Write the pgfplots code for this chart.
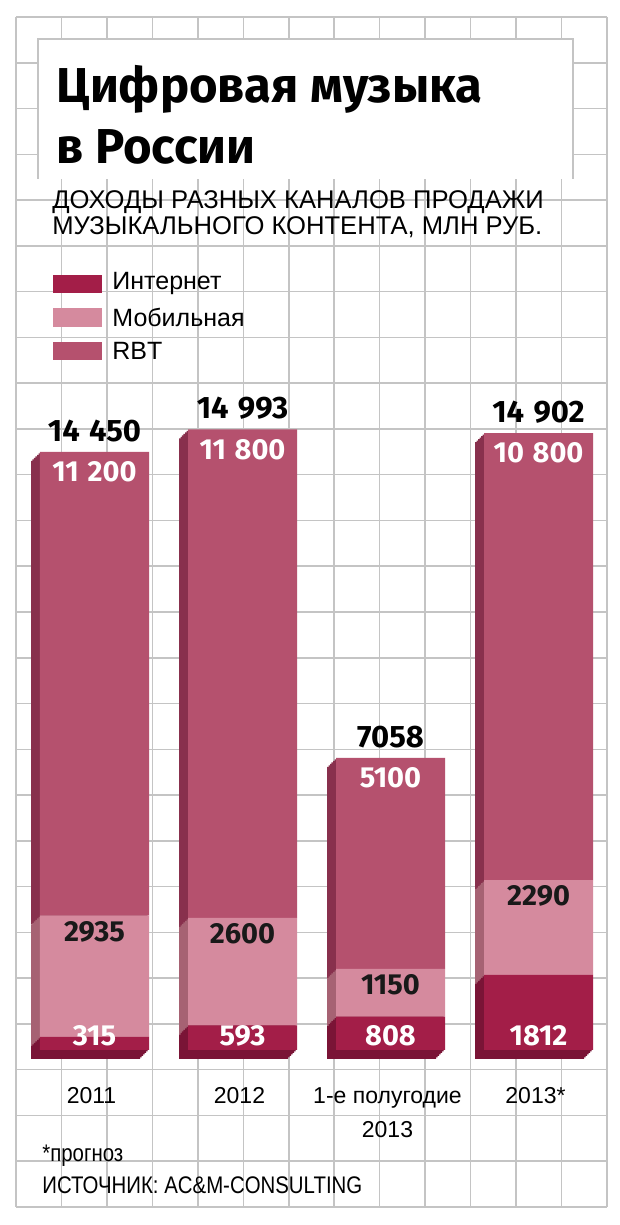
\documentclass[border=0pt]{standalone}
\usepackage{fontspec}
\setmainfont{Liberation Sans}
\newfontfamily\titlefont{Fira Sans}
\newfontfamily\numfont{Fira Sans}
\newfontfamily\condfont{Liberation Sans}[FakeStretch=0.85]
\usepackage{pgfplots}
\pgfplotsset{compat=1.18}
\usepackage{pgfplotstable}

\definecolor{inet}{HTML}{A31E48}
\definecolor{inetside}{HTML}{7A1436}
\definecolor{mob}{HTML}{D58A9E}
\definecolor{mobside}{HTML}{A66273}
\definecolor{rbt}{HTML}{B5516E}
\definecolor{rbtside}{HTML}{88304D}
\definecolor{gridc}{HTML}{C4C4C4}

% revenue by channel, mln rub
\pgfplotstableread{
x int mob rbt zero tot
0 315 2935 11200 0 14450
1 593 2600 11800 0 14993
2 808 1150 5100 0 7058
3 1812 2290 10800 0 14902
}\revenue

\pgfplotsset{
  geom/.style={
    scale only axis,
    width=296pt, height=310.5pt,
    xmin=-0.5, xmax=3.5, ymin=0, ymax=15000,
    enlargelimits=false, clip=false,
    anchor=south west,
  },
  barbase/.style={geom, hide axis, ybar stacked, bar width=54.5pt},
  lbl/.style={only marks, mark=text, text mark={},
    nodes near coords, point meta=explicit},
}
\tikzset{numlabel/.style={anchor=center, inner sep=0pt,
    font=\numfont\bfseries\fontsize{14.5}{14.5}\selectfont}}

\begin{document}
\begin{tikzpicture}[x=0.5pt,y=0.5pt]
\useasboundingbox (0,0) rectangle (620,1225);
\fill[white] (0,0) rectangle (620,1225);

% background grid
\foreach \k in {0,...,13}
  \draw[gridc, line width=0.75pt] ({16+45.46*\k},18) -- ({16+45.46*\k},1208);
\foreach \k in {0,...,26}
  \draw[gridc, line width=0.75pt] (16,{1208-45.77*\k}) -- (607,{1208-45.77*\k});

% title box
\fill[white] (38,1046) rectangle (573,1186);
\draw[gridc, line width=0.75pt] (38,1046) -- (38,1186) -- (573,1186) -- (573,1046);
\node[anchor=base west, inner sep=0pt, font=\titlefont\bfseries\fontsize{24.5}{24.5}\selectfont]
  at (56,1122) {Цифровая музыка};
\node[anchor=base west, inner sep=0pt, font=\titlefont\bfseries\fontsize{24.5}{24.5}\selectfont]
  at (56,1061) {в России};

\node[anchor=base west, inner sep=0pt, font=\fontsize{12.8}{12.8}\selectfont]
  at (52,1016) {ДОХОДЫ РАЗНЫХ КАНАЛОВ ПРОДАЖИ};
\node[anchor=base west, inner sep=0pt, font=\fontsize{12.8}{12.8}\selectfont]
  at (52,990) {МУЗЫКАЛЬНОГО КОНТЕНТА, МЛН РУБ.};

% legend
\fill[inet] (53,932) rectangle (102,950);
\fill[mob] (53,898) rectangle (102,917);
\fill[rbt] (53,865) rectangle (102,883);
\node[anchor=west, inner sep=0pt, font=\fontsize{12.5}{12.5}\selectfont] at (112,941) {Интернет};
\node[anchor=west, inner sep=0pt, font=\fontsize{12.5}{12.5}\selectfont] at (112,907.5) {Мобильная};
\node[anchor=west, inner sep=0pt, font=\fontsize{12.5}{12.5}\selectfont] at (112,874) {RBT};

% side faces of the boxes
\foreach \d in {9,7.5,6,4.5,3,1.5}{
  \begin{axis}[barbase, at={({10.25pt-\d*0.5pt},{87.5pt-\d*0.5pt})}]
    \addplot[draw=none, fill=inetside] table[x=x,y=int]{\revenue};
    \addplot[draw=none, fill=mobside] table[x=x,y=mob]{\revenue};
    \addplot[draw=none, fill=rbtside] table[x=x,y=rbt]{\revenue};
  \end{axis}
}

% front faces
\begin{axis}[barbase, at={(10.25pt,87.5pt)}]
  \addplot[draw=none, fill=inet] table[x=x,y=int]{\revenue};
  \addplot[draw=none, fill=mob] table[x=x,y=mob]{\revenue};
  \addplot[draw=none, fill=rbt] table[x=x,y=rbt]{\revenue};
\end{axis}

% value labels and categories
\begin{axis}[geom, at={(10.25pt,87.5pt)},
  axis line style={draw=none}, tick style={draw=none},
  ytick=\empty, xtick={0,1,2,3},
  xticklabels={2011,2012,{1-е полугодие\\2013},2013*},
  xticklabel style={anchor=north, inner sep=0pt, align=center,
    yshift=-18.5pt, xshift=-1.5pt, font=\fontsize{11.5}{17}\selectfont},
  /pgf/number format/fixed, /pgf/number format/precision=0,
  /pgf/number format/1000 sep={\hspace{0.3em}},
  /pgf/number format/min exponent for 1000 sep=4,
  /pgf/number format/assume math mode=true]
  % internet: near the foot of each box
  \addplot[lbl, every node near coord/.append style={numlabel, white, yshift=7pt}]
    table[x=x,y=zero,meta=int]{\revenue};
  % mobile: just under the top of its segment
  \addplot[lbl, every node near coord/.append style={numlabel, black!90, yshift=-8pt}]
    table[x=x,y expr=\thisrow{int}+\thisrow{mob},meta=mob]{\revenue};
  % RBT: just under the top of the box
  \addplot[lbl, every node near coord/.append style={numlabel, white, yshift=-10pt}]
    table[x=x,y=tot,meta=rbt]{\revenue};
  % totals above the boxes
  \addplot[lbl, every node near coord/.append style={numlabel, black,
      font=\numfont\bfseries\fontsize{15.5}{15.5}\selectfont, yshift=10.5pt}]
    table[x=x,y=tot,meta=tot]{\revenue};
\end{axis}

% footnotes
\node[anchor=base west, inner sep=0pt, font=\condfont\fontsize{12}{12}\selectfont] at (42,63) {*прогноз};
\node[anchor=base west, inner sep=0pt, font=\condfont\fontsize{12}{12}\selectfont] at (42,32) {ИСТОЧНИК: AC\&M-CONSULTING};
\end{tikzpicture}
\end{document}
